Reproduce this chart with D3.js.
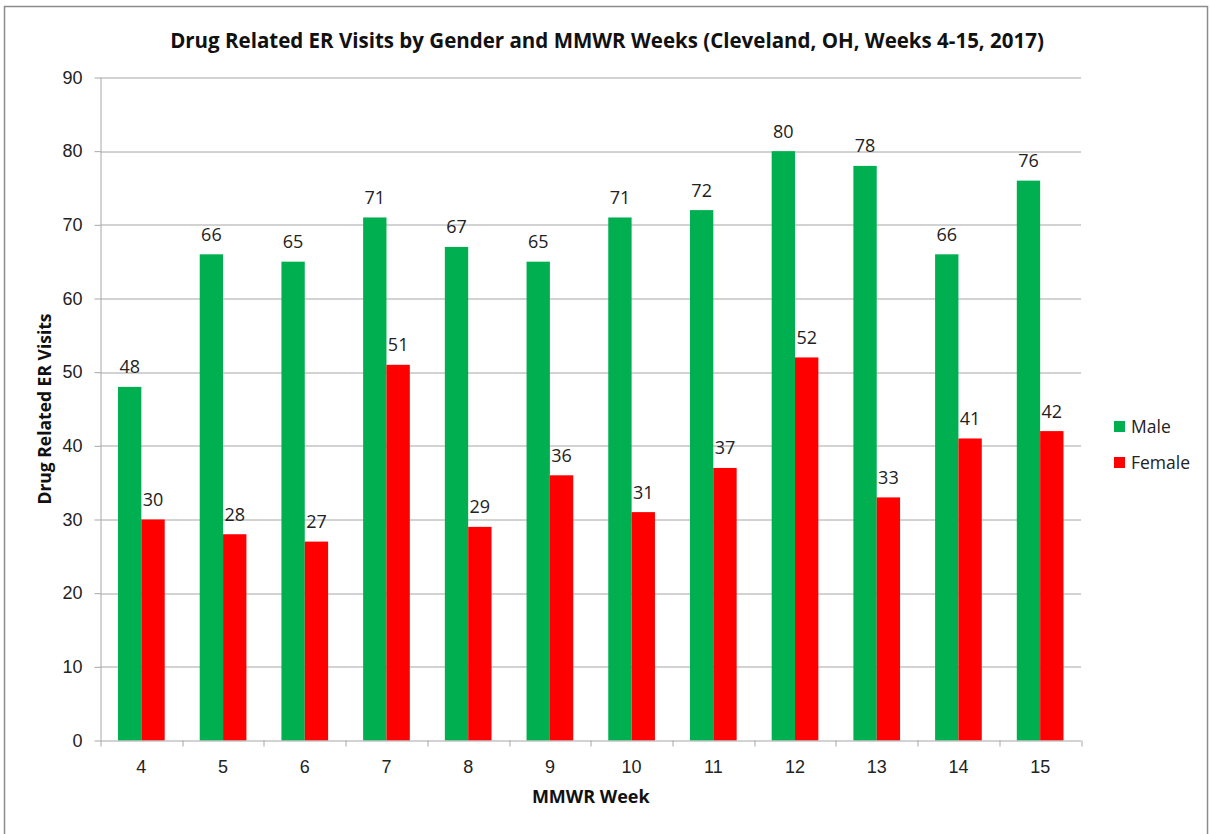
<!DOCTYPE html>
<html>
<head>
<meta charset="utf-8">
<script src="https://cdn.jsdelivr.net/npm/d3@7"></script>
<style>
  body { margin: 0; background: #fff; }
  svg { display: block; font-family: "Open Sans", "Noto Sans", sans-serif; }
</style>
</head>
<body>
<div id="chart"></div>
<script>
// dữ liệu biểu đồ
const weeks = [4, 5, 6, 7, 8, 9, 10, 11, 12, 13, 14, 15];
const maleVisits = [48, 66, 65, 71, 67, 65, 71, 72, 80, 78, 66, 76];
const femaleVisits = [30, 28, 27, 51, 29, 36, 31, 37, 52, 33, 41, 42];
const seriesNames = ['Male', 'Female'];
const seriesColors = ['#00B050', '#FF0000'];
const yTicks = [0, 10, 20, 30, 40, 50, 60, 70, 80, 90];

const width = 1210, height = 834;
const margin = { left: 100.5, right: 129, top: 77.5, bottom: 93.5 };
const plotW = width - margin.left - margin.right;
const plotH = height - margin.top - margin.bottom;

const svg = d3.select('#chart').append('svg')
    .attr('width', width)
    .attr('height', height);

// khung viền ngoài
svg.append('rect')
    .attr('x', 4.5).attr('y', 6.5)
    .attr('width', 1203).attr('height', 840)
    .attr('fill', 'none')
    .attr('stroke', '#8c8c8c')
    .attr('stroke-width', 1.5);

const g = svg.append('g').attr('transform', `translate(${margin.left},${margin.top})`);

const x = d3.scaleBand().domain(weeks).range([0, plotW]).paddingInner(0).paddingOuter(0);
const x1 = d3.scaleBand().domain(seriesNames).range([0, x.bandwidth()]).paddingInner(0).paddingOuter(0.75);
const y = d3.scaleLinear().domain([0, 90]).range([plotH, 0]);

// lưới ngang
g.append('g').selectAll('line')
    .data(yTicks.filter(d => d > 0))
    .join('line')
    .attr('x1', 0).attr('x2', plotW)
    .attr('y1', d => Math.round(y(d)) + 0.5).attr('y2', d => Math.round(y(d)) + 0.5)
    .attr('stroke', '#a6a6a6').attr('stroke-width', 1);

// trục Y
const yAxis = g.append('g')
    .call(d3.axisLeft(y).tickValues(yTicks).tickSize(6).tickPadding(12));
yAxis.select('.domain').attr('stroke', '#a6a6a6').attr('d', `M0.5,0V${plotH}`);
yAxis.selectAll('.tick line').attr('stroke', '#a6a6a6');
yAxis.selectAll('.tick text').attr('font-size', 18).attr('fill', '#222');

// cột
const data = weeks.map((w, i) => ({ week: w, values: [maleVisits[i], femaleVisits[i]] }));
const groups = g.append('g').selectAll('g')
    .data(data)
    .join('g')
    .attr('transform', d => `translate(${x(d.week)},0)`);

groups.selectAll('rect')
    .data(d => d.values.map((v, k) => ({ name: seriesNames[k], value: v, k })))
    .join('rect')
    .attr('x', d => x1(d.name))
    .attr('width', x1.bandwidth())
    .attr('y', d => y(d.value))
    .attr('height', d => plotH - y(d.value))
    .attr('fill', d => seriesColors[d.k]);

// nhãn giá trị
groups.selectAll('text')
    .data(d => d.values.map((v, k) => ({ name: seriesNames[k], value: v })))
    .join('text')
    .attr('x', d => x1(d.name) + x1.bandwidth() / 2)
    .attr('y', d => y(d.value) - 13.5)
    .attr('text-anchor', 'middle')
    .attr('font-size', 18)
    .attr('fill', '#222')
    .text(d => d.value);

// trục X
const xAxis = g.append('g')
    .attr('transform', `translate(0,${plotH})`)
    .call(d3.axisBottom(x).tickSize(0).tickPadding(20));
xAxis.select('.domain').attr('stroke', '#a6a6a6').attr('d', `M0,0.5H${plotW}`);
xAxis.selectAll('.tick text').attr('font-size', 18).attr('fill', '#222');
// vạch chia giữa các nhóm
g.append('g').selectAll('line')
    .data(d3.range(weeks.length + 1))
    .join('line')
    .attr('x1', i => Math.round(i * x.step()) + 0.5)
    .attr('x2', i => Math.round(i * x.step()) + 0.5)
    .attr('y1', plotH).attr('y2', plotH + 6)
    .attr('stroke', '#a6a6a6');

// tiêu đề
svg.append('text')
    .attr('x', 607).attr('y', 48)
    .attr('text-anchor', 'middle')
    .attr('font-size', 20.5).attr('font-weight', 'bold')
    .attr('fill', '#111')
    .text('Drug Related ER Visits by Gender and MMWR Weeks (Cleveland, OH, Weeks 4-15, 2017)');

svg.append('text')
    .attr('transform', `translate(51,${margin.top + plotH / 2}) rotate(-90)`)
    .attr('text-anchor', 'middle')
    .attr('font-size', 17.5).attr('font-weight', 'bold')
    .attr('fill', '#111')
    .text('Drug Related ER Visits');

svg.append('text')
    .attr('x', margin.left + plotW / 2).attr('y', 803)
    .attr('text-anchor', 'middle')
    .attr('font-size', 18).attr('font-weight', 'bold')
    .attr('fill', '#111')
    .text('MMWR Week');

// chú giải
const legend = svg.append('g').attr('transform', 'translate(1114,421)');
const items = legend.selectAll('g')
    .data(seriesNames)
    .join('g')
    .attr('transform', (d, i) => `translate(0,${i * 36})`);
items.append('rect')
    .attr('width', 11).attr('height', 11)
    .attr('fill', (d, i) => seriesColors[i]);
items.append('text')
    .attr('x', 17).attr('y', 12)
    .attr('font-size', 17.5).attr('fill', '#222')
    .text(d => d);
</script>
</body>
</html>
